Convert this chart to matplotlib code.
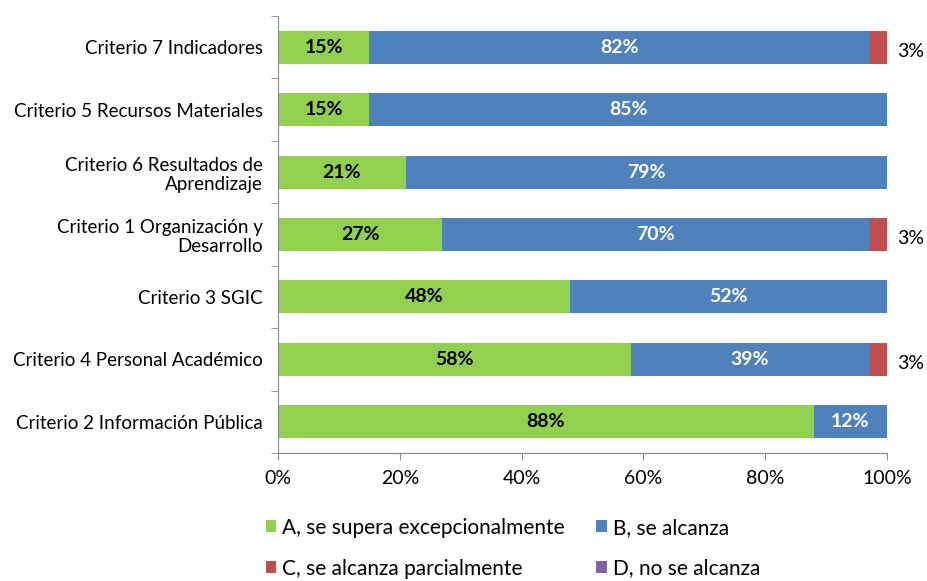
import matplotlib.pyplot as plt
import numpy as np

plt.rcParams['font.family'] = ['Lato', 'DejaVu Sans']

# Categories from top to bottom
categories = [
    "Criterio 7 Indicadores",
    "Criterio 5 Recursos Materiales",
    "Criterio 6 Resultados de\nAprendizaje",
    "Criterio 1 Organización y\nDesarrollo",
    "Criterio 3 SGIC",
    "Criterio 4 Personal Académico",
    "Criterio 2 Información Pública",
]
a_vals = [15, 15, 21, 27, 48, 58, 88]
b_vals = [82, 85, 79, 70, 52, 39, 12]
c_vals = [3, 0, 0, 3, 0, 3, 0]
d_vals = [0, 0, 0, 0, 0, 0, 0]

series_names = ["A, se supera excepcionalmente", "B, se alcanza",
                "C, se alcanza parcialmente", "D, no se alcanza"]
colors = ["#92d050", "#4f81bd", "#c0504d", "#8064a2"]

fig = plt.figure(figsize=(9.28, 5.81), dpi=100)
ax = fig.add_axes([278 / 928, 1 - 453 / 581, 609 / 928, 437 / 581])

y = np.arange(len(categories))[::-1]
h = 0.53
left = np.zeros(len(categories))
bars = []
handles = []
for vals, col, name in zip([a_vals, b_vals, c_vals, d_vals], colors, series_names):
    v = np.array(vals, dtype=float)
    b = ax.barh(y, v, left=left, height=h, color=col, label=name, edgecolor='none')
    handles.append(b)
    bars.append((v, left.copy()))
    left = left + v

# data labels
for (v, l), txtcol in zip(bars[:2], ['black', 'white']):
    for yi, vi, li in zip(y, v, l):
        if vi > 0:
            ax.text(li + vi / 2, yi, f"{vi:.0f}%", ha='center', va='center',
                    color=txtcol, fontsize=14, fontweight='bold')
v, l = bars[2]
for yi, vi, li in zip(y, v, l):
    if vi > 0:
        ax.annotate(f"{vi:.0f}%", xy=(100, yi), xytext=(7, -3), textcoords='offset points',
                    ha='left', va='center', fontsize=14, color='black', annotation_clip=False)

ax.set_xlim(0, 100)
ax.set_ylim(-0.5, len(categories) - 0.5)
ax.set_xticks(np.arange(0, 101, 20))
ax.set_xticklabels([f"{t}%" for t in range(0, 101, 20)], fontsize=14)
ax.set_yticks(y)
ax.set_yticklabels(categories, fontsize=13.5, linespacing=1.15)
ax.set_yticks(np.arange(-0.5, len(categories), 1), minor=True)
ax.tick_params(axis='y', which='major', length=0, pad=11)
ax.tick_params(axis='y', which='minor', length=5, color='#888888')
ax.tick_params(axis='x', length=5, color='#888888', pad=7)
for lab in ax.get_yticklabels():
    lab.set_horizontalalignment('right')
for s in ['top', 'right']:
    ax.spines[s].set_visible(False)
for s in ['left', 'bottom']:
    ax.spines[s].set_color('#888888')

# row-major legend order: A B / C D
order = [0, 2, 1, 3]
fig.legend([handles[i] for i in order], [series_names[i] for i in order],
           loc='upper left', bbox_to_anchor=(247 / 928, 1 - 499 / 581), ncol=2, frameon=False,
           fontsize=15, handlelength=0.5, handleheight=0.5, handletextpad=0.3,
           columnspacing=1.5, labelspacing=1.0)

fig.savefig("out.png", dpi=100)
